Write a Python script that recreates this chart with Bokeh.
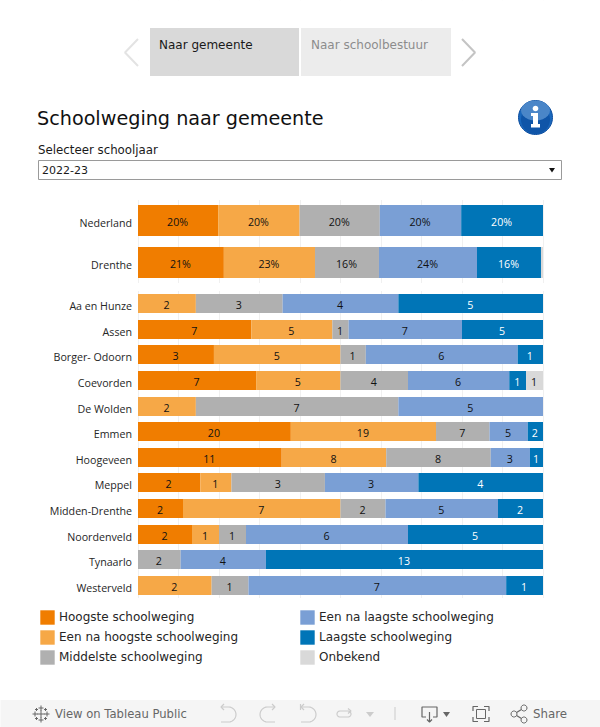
import math
from bokeh.plotting import figure
from bokeh.embed import file_html
from bokeh.resources import INLINE
from bokeh.models import (ColumnDataSource, Range1d, FixedTicker, Legend, LegendItem)
from bokeh.core.properties import value

# ---------- data ----------
rows = ["Nederland", "Drenthe", "Aa en Hunze", "Assen", "Borger- Odoorn", "Coevorden", "De Wolden",
        "Emmen", "Hoogeveen", "Meppel", "Midden-Drenthe", "Noordenveld", "Tynaarlo", "Westerveld"]
series = ["Hoogste schoolweging", "Een na hoogste schoolweging", "Middelste schoolweging",
          "Een na laagste schoolweging", "Laagste schoolweging", "Onbekend"]
colors = ["#f07d00", "#f6a847", "#b0b0b0", "#7a9fd5", "#0075b7", "#d9d9d9"]
label_colors = ["#111111", "#111111", "#111111", "#111111", "#ffffff", "#111111"]

hoogste =        [19.8, 21.2, 0, 7, 3, 7, 0, 20, 11, 2, 2, 2, 0, 0]
een_na_hoogste = [20.1, 22.5, 2, 5, 5, 5, 2, 19, 8, 1, 7, 1, 0, 2]
middelste =      [19.8, 15.8, 3, 1, 1, 4, 7, 7, 8, 3, 2, 1, 2, 1]
een_na_laagste = [20.1, 24.2, 4, 7, 6, 6, 5, 5, 3, 3, 5, 6, 4, 7]
laagste =        [20.2, 15.8, 5, 5, 1, 1, 0, 2, 1, 4, 2, 5, 13, 1]
onbekend =       [0, 0.5, 0, 0, 0, 1, 0, 0, 0, 0, 0, 0, 0, 0]
columns = [hoogste, een_na_hoogste, middelste, een_na_laagste, laagste, onbekend]
percent_rows = {"Nederland": [20, 20, 20, 20, 20, None], "Drenthe": [21, 23, 16, 24, 16, None]}

# ---------- layout (pixels) ----------
W, H = 600, 727
PLOT_L, PLOT_W, PLOT_T = 138, 405, 200
SHIFT = 0.5  # Bokeh's drawing context sits half a pixel right of and below the requested coordinates
row_center = [20.5, 62.5, 103.5, 129.5, 154.5, 180.5, 206.5, 231.5, 257.5, 282.5, 308.5, 334.5, 359.5, 385.5]
row_height = [31, 31] + [19] * 12
BODY = "DejaVu Sans"
LAB = "Open Sans"

p = figure(width=W, height=H, output_backend="svg", toolbar_location=None,
           x_range=Range1d((SHIFT - PLOT_L) / PLOT_W * 100, (W + SHIFT - PLOT_L) / PLOT_W * 100),
           y_range=Range1d(H + SHIFT - PLOT_T, SHIFT - PLOT_T),
           min_border=0, outline_line_color=None, background_fill_color="#ffffff", border_fill_color="#ffffff")
p.extra_x_ranges["px"] = Range1d(SHIFT, W + SHIFT)
p.extra_y_ranges["px"] = Range1d(H + SHIFT, SHIFT)
PX = dict(x_range_name="px", y_range_name="px")

def box(l, t, r, b, fill, line=None):
    p.quad(left=[l], right=[r], top=[t], bottom=[b], fill_color=fill, line_color=line, line_width=1, **PX)

# masks that limit the grid to its two panels
box(0, 0, W + 2, 200, "#ffffff")
box(0, 283, W + 2, 291, "#ffffff")
box(0, 598, W + 2, H + 2, "#ffffff")

# shares
totals = [sum(c[i] for c in columns) for i in range(len(rows))]
shares = [[c[i] / totals[i] * 100 for i in range(len(rows))] for c in columns]

data = {"y": row_center, "h": row_height}
for name, s in zip(series, shares):
    data[name] = s
src = ColumnDataSource(data)
rs = p.hbar_stack(series, y="y", height="h", color=colors, source=src, line_color=None)

# value labels
lx, ly, lt, lc = [], [], [], []
for i, r in enumerate(rows):
    acc = 0
    for j in range(6):
        s = shares[j][i]
        raw = columns[j][i]
        if r in percent_rows:
            t = percent_rows[r][j]
            t = None if t is None else f"{t}%"
        else:
            t = str(raw) if raw else None
        if t:
            lx.append(acc + s / 2); ly.append(row_center[i]); lt.append(t); lc.append(label_colors[j])
        acc += s
p.text(lx, ly, text=lt, text_color=lc, text_align="center", text_baseline="middle",
       text_font=value(LAB), text_font_size="10.67px", y_offset=1, x_offset=-0.5)

# axes
p.xaxis.visible = False
p.xgrid.ticker = FixedTicker(ticks=list(range(0, 101, 10)))
p.xgrid.grid_line_color = "#f0f0f0"
p.ygrid.visible = False
ax = p.yaxis[0]
ax.fixed_location = 0
tick_pos = [c + 2 for c in row_center]
ax.ticker = FixedTicker(ticks=tick_pos)
ax.major_label_overrides = {c: r for c, r in zip(tick_pos, rows)}
ax.axis_line_color = None
ax.major_tick_line_color = None
ax.minor_tick_line_color = None
ax.major_tick_in = 0
ax.major_tick_out = 0
ax.major_label_text_font = LAB
ax.major_label_text_font_size = "10.67px"
ax.major_label_text_color = "#262626"
ax.major_label_standoff = 6

# legends
def legend(idx, x):
    items = [LegendItem(label=series[i], renderers=[rs[i]]) for i in idx]
    lg = Legend(items=items, location=(x, 61.5), orientation="vertical", glyph_width=18, glyph_height=18,
                label_standoff=3, spacing=2, margin=0, padding=0, label_height=18, label_width=10,
                background_fill_alpha=0, border_line_color=None,
                label_text_font=BODY, label_text_font_size="12px", label_text_color="#262626")
    p.add_layout(lg, "center")
legend([0, 1, 2], 38)
legend([3, 4, 5], 298)

# ---------- decorations (page pixel coordinates) ----------
def text(x, y, s, size, color="#1a1a1a", font=BODY, align="left", style="normal", baseline="middle"):
    p.text([x], [y], text=[s], text_font=value(font), text_font_size=f"{size}px", text_color=color,
           text_align=align, text_baseline=baseline, text_font_style=style, **PX)

def poly(pts, fill=None, line=None, lw=1.0):
    p.patch([a for a, _ in pts], [b for _, b in pts], fill_color=fill, fill_alpha=1 if fill else 0,
            line_color=line, line_width=lw, line_alpha=1 if line else 0, **PX)

def stroke(pts, color, lw=1.2):
    p.line([a for a, _ in pts], [b for _, b in pts], line_color=color, line_width=lw, **PX)

def arc(cx, cy, r, a0, a1, n=14):
    return [(cx + r * math.cos(math.radians(a0 + (a1 - a0) * k / n)),
             cy + r * math.sin(math.radians(a0 + (a1 - a0) * k / n))) for k in range(n + 1)]

# tabs
box(150, 28, 299, 76, "#d9d9d9")
box(301, 28, 451, 76, "#ececec")
text(159, 45, "Naar gemeente", 12, "#1a1a1a")
text(311, 45, "Naar schoolbestuur", 12, "#8c8c8c")
stroke([(138, 39), (125, 52.5), (138, 66)], "#e3e3e3", 2)
stroke([(462, 39), (475, 52.5), (462, 66)], "#c4c4c4", 2)

# title
text(37, 118, "Schoolweging naar gemeente", 19.2, "#111111")
poly(arc(535.5, 117.5, 17, 0, 360, 48), "#1a68bd", "#0f4f9f", 1)
poly(arc(535.5, 119.5, 14.5, 0, 360, 36), "#0f55a8", None)
poly([(535.5 + 14.5 * math.cos(math.radians(a)), 110.5 + 10 * math.sin(math.radians(a))) for a in range(0, 360, 15)], "#4a86c8", None)
poly(arc(535.5, 108.5, 2.8, 0, 360, 16), "#ffffff", None)
poly([(531, 113), (538, 113), (538, 124), (540, 124), (540, 127.5), (531, 127.5), (531, 124), (533, 124), (533, 116), (531, 116)], "#ffffff", None)

# filter
text(38, 149.5, "Selecteer schooljaar", 11.8, "#1a1a1a")
box(38.5, 160.5, 561.5, 179.5, "#ffffff", "#9a9a9a")
text(42, 170, "2022-23", 11, "#1a1a1a")
poly([(549, 168), (555, 168), (552, 172.5)], "#111111", None)

# toolbar band
box(0, 700, W + 2, H + 2, "#f5f5f5")
GR, LG = "#666666", "#cccccc"
for dx, dy, s in [(0, 0, 4), (-6, 0, 2.5), (6, 0, 2.5), (0, -6, 2.5), (0, 6, 2.5), (-4.5, -4.5, 1.5), (4.5, -4.5, 1.5), (-4.5, 4.5, 1.5), (4.5, 4.5, 1.5)]:
    stroke([(41 + dx - s, 714 + dy), (41 + dx + s, 714 + dy)], GR, 1)
    stroke([(41 + dx, 714 + dy - s), (41 + dx, 714 + dy + s)], GR, 1)
text(55, 714, "View on Tableau Public", 11.6, GR)
stroke([(221, 707)] + arc(228.5, 714.5, 7.5, -90, 90) + [(221, 722)], LG)
stroke([(224, 704), (221, 707), (224, 710)], LG)
stroke([(275, 707)] + arc(267.5, 714.5, 7.5, 270, 90) + [(275, 722)], LG)
stroke([(272, 704), (275, 707), (272, 710)], LG)
stroke([(301, 707)] + arc(308.5, 714.5, 7.5, -90, 90) + [(301, 722)], LG)
stroke([(300.5, 704), (300.5, 710)], LG)
stroke([(304, 704), (301, 707), (304, 710)], LG)
stroke([(340, 711), (348, 711)] + arc(348, 714, 3, -90, 90) + [(340, 717)] + arc(340, 714, 3, 90, 270), LG)
stroke([(348, 708.5), (351, 711), (348, 713.5)], LG)
poly([(366, 712), (374, 712), (370, 717)], LG, None)
box(394.5, 707, 395.5, 720, LG)
stroke([(426, 717), (422, 717), (422, 707), (437, 707), (437, 717), (433, 717)], GR)
stroke([(429.5, 712), (429.5, 722)], GR)
stroke([(427, 719.5), (429.5, 722), (432, 719.5)], GR)
poly([(443, 712), (450, 712), (446.5, 717)], GR, None)
for seg in [[(473, 711), (473, 706.5), (478, 706.5)], [(484, 706.5), (489, 706.5), (489, 711)],
            [(489, 717), (489, 721.5), (484, 721.5)], [(478, 721.5), (473, 721.5), (473, 717)]]:
    stroke(seg, GR)
poly([(476.5, 709.5), (485.5, 709.5), (485.5, 718.5), (476.5, 718.5)], None, GR, 1)
stroke([(514, 714), (524, 708)], GR); stroke([(514, 714), (524, 720)], GR)
poly(arc(514, 714, 3, 0, 360, 14), "#f5f5f5", GR); poly(arc(524, 708, 3, 0, 360, 14), "#f5f5f5", GR); poly(arc(524, 720, 3, 0, 360, 14), "#f5f5f5", GR)
text(533, 714, "Share", 11.8, GR)

open("out.html", "w").write(file_html(p, INLINE))
